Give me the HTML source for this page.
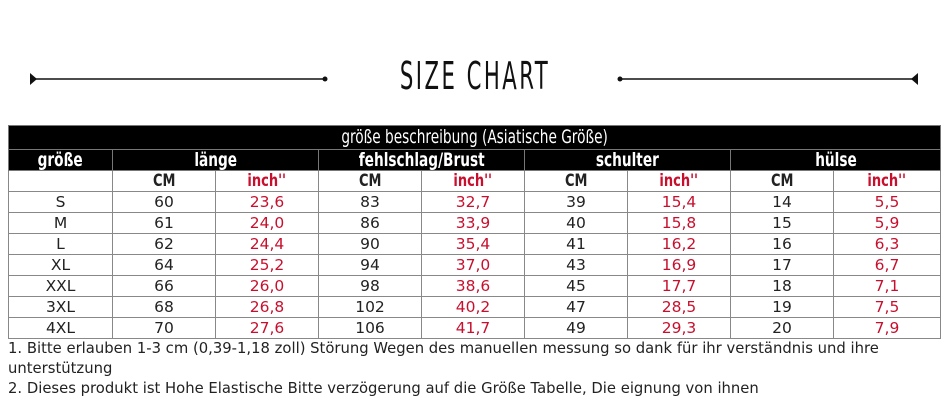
<!DOCTYPE html>
<html><head><meta charset="utf-8"><style>
body{margin:0;width:948px;height:409px;background:#fff;position:relative;overflow:hidden;font-family:"DejaVu Sans","Liberation Sans",sans-serif;}
.title{position:absolute;left:325px;top:54px;width:300px;text-align:center;white-space:nowrap;font-family:"DejaVu Sans Condensed","Liberation Sans",sans-serif;font-size:38px;color:#111;letter-spacing:4px;transform:scaleX(0.62);transform-origin:center;}
table{position:absolute;left:8px;top:125px;border-collapse:collapse;table-layout:fixed;width:932px;}
td{border:1px solid #888;text-align:center;padding:0;font-size:15.5px;color:#222;height:20px;line-height:19px;overflow:hidden;white-space:nowrap;}
tr.h td{background:#000;color:#fff;border-color:#777;font-family:"DejaVu Sans Condensed","Liberation Sans",sans-serif;font-size:19px;font-weight:bold;}
tr.h1 td{height:23px;font-weight:normal;}
tr.h td span{display:inline-block;transform:scaleX(0.8);}
tr.u td{font-family:"DejaVu Sans Condensed","Liberation Sans",sans-serif;font-size:17px;font-weight:bold;}
tr.u td span{display:inline-block;transform:scaleX(0.85);}
.r{color:#c8102e;}
.notes{position:absolute;left:8px;top:339px;font-size:14.8px;line-height:20px;color:#222;width:935px;}
</style></head><body>
<svg width="948" height="120" style="position:absolute;left:0;top:0">
<line x1="32" y1="79" x2="325" y2="79" stroke="#111" stroke-width="1.5"/>
<polygon points="30,73 37,79 30,85" fill="#111"/><circle cx="325" cy="79" r="2.5" fill="#111"/>
<line x1="620" y1="79" x2="916" y2="79" stroke="#111" stroke-width="1.5"/>
<polygon points="918,73 911,79 918,85" fill="#111"/><circle cx="620" cy="79" r="2.5" fill="#111"/>
</svg>
<div class="title">SIZE CHART</div>
<table>
<colgroup><col style="width:104px"><col style="width:103px"><col style="width:103px"><col style="width:103px"><col style="width:103px"><col style="width:103px"><col style="width:103px"><col style="width:103px"><col style="width:107px"></colgroup>
<tr class="h h1"><td colspan="9"><span>größe beschreibung (Asiatische Größe)</span></td></tr>
<tr class="h"><td><span>größe</span></td><td colspan="2"><span>länge</span></td><td colspan="2"><span>fehlschlag/Brust</span></td><td colspan="2"><span>schulter</span></td><td colspan="2"><span>hülse</span></td></tr>
<tr class="u"><td></td><td><span>CM</span></td><td class="r"><span>inch''</span></td><td><span>CM</span></td><td class="r"><span>inch''</span></td><td><span>CM</span></td><td class="r"><span>inch''</span></td><td><span>CM</span></td><td class="r"><span>inch''</span></td></tr>
<tr><td>S</td><td>60</td><td class="r">23,6</td><td>83</td><td class="r">32,7</td><td>39</td><td class="r">15,4</td><td>14</td><td class="r">5,5</td></tr>
<tr><td>M</td><td>61</td><td class="r">24,0</td><td>86</td><td class="r">33,9</td><td>40</td><td class="r">15,8</td><td>15</td><td class="r">5,9</td></tr>
<tr><td>L</td><td>62</td><td class="r">24,4</td><td>90</td><td class="r">35,4</td><td>41</td><td class="r">16,2</td><td>16</td><td class="r">6,3</td></tr>
<tr><td>XL</td><td>64</td><td class="r">25,2</td><td>94</td><td class="r">37,0</td><td>43</td><td class="r">16,9</td><td>17</td><td class="r">6,7</td></tr>
<tr><td>XXL</td><td>66</td><td class="r">26,0</td><td>98</td><td class="r">38,6</td><td>45</td><td class="r">17,7</td><td>18</td><td class="r">7,1</td></tr>
<tr><td>3XL</td><td>68</td><td class="r">26,8</td><td>102</td><td class="r">40,2</td><td>47</td><td class="r">28,5</td><td>19</td><td class="r">7,5</td></tr>
<tr><td>4XL</td><td>70</td><td class="r">27,6</td><td>106</td><td class="r">41,7</td><td>49</td><td class="r">29,3</td><td>20</td><td class="r">7,9</td></tr>
</table>
<div class="notes">1. Bitte erlauben 1-3 cm (0,39-1,18 zoll) Störung Wegen des manuellen messung so dank für ihr verständnis und ihre unterstützung<br>2. Dieses produkt ist Hohe Elastische Bitte verzögerung auf die Größe Tabelle, Die eignung von ihnen</div>
</body></html>
